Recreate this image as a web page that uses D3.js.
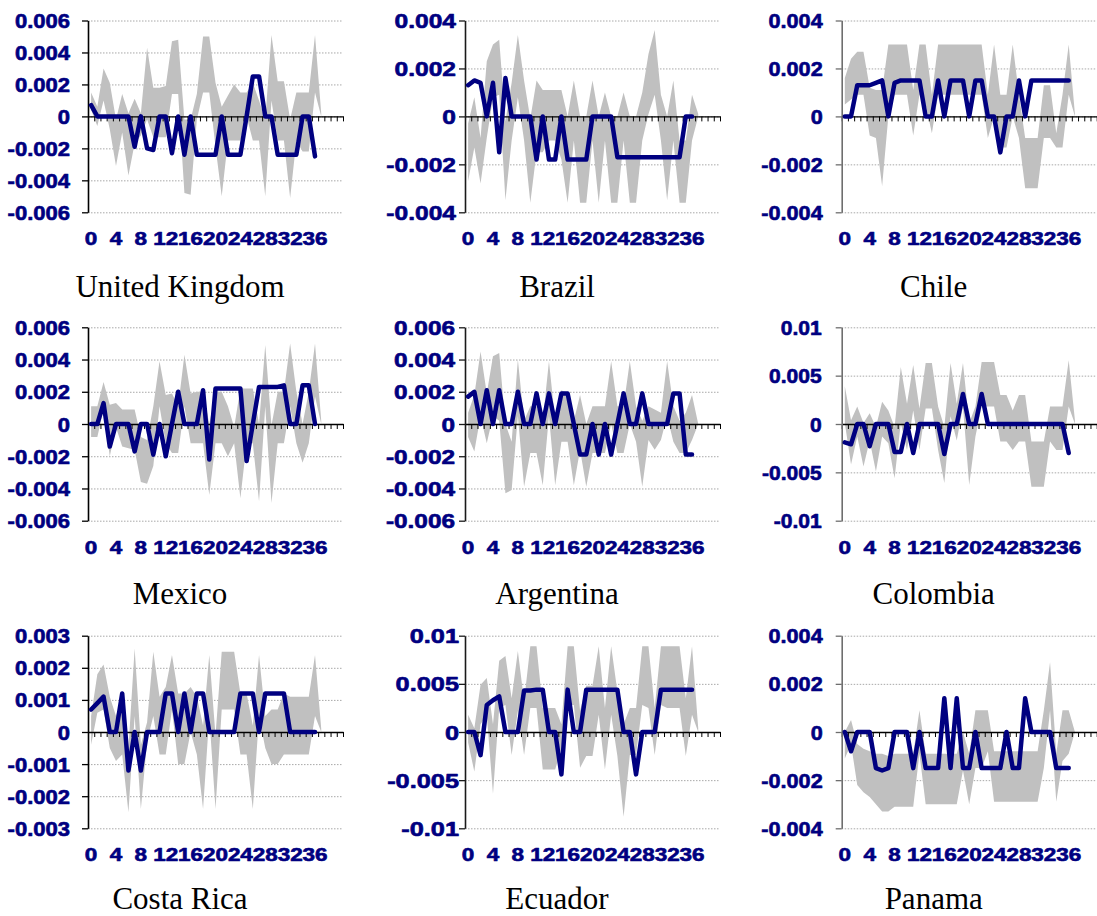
<!DOCTYPE html>
<html>
<head>
<meta charset="utf-8">
<script src="https://cdn.jsdelivr.net/npm/d3@7"></script>
<style>
  body { margin: 0; background: #ffffff; }
  svg { display: block; }
</style>
</head>
<body>
<svg id="chart" width="1097" height="916"></svg>
<script>
// ---- categories (periods) and their printed labels ----
const periods = [0,1,2,3,4,5,6,7,8,9,10,11,12,13,14,15,16,17,18,19,20,21,22,23,24,25,26,27,28,29,30,31,32,33,34,35,36,37,38,39,40];
const periodTicks = [0,4,8,12,16,20,24,28,32,36];

// ---- y tick sets ----
const ticks006 = [-0.006,-0.004,-0.002,0,0.002,0.004,0.006];
const labels006 = ["-0.006","-0.004","-0.002","0","0.002","0.004","0.006"];
const ticks004 = [-0.004,-0.002,0,0.002,0.004];
const labels004 = ["-0.004","-0.002","0","0.002","0.004"];
const ticks003 = [-0.003,-0.002,-0.001,0,0.001,0.002,0.003];
const labels003 = ["-0.003","-0.002","-0.001","0","0.001","0.002","0.003"];
const ticks01 = [-0.01,-0.005,0,0.005,0.01];
const labels01 = ["-0.01","-0.005","0","0.005","0.01"];

// ---- United Kingdom ----
const ukLine = [0.0007,0,0,0,0,0,0,-0.0019,0,-0.002,-0.0021,0,0,-0.0023,0,-0.0024,0,-0.0024,-0.0024,-0.0024,-0.0024,0,-0.0024,-0.0024,-0.0024,0,0.0025,0.0025,0,0,-0.0024,-0.0024,-0.0024,-0.0024,0,0,-0.0025];
const ukUpper = [0.0015,0.0006,0.003,0.0021,-0.0002,0.0014,0.0002,0.0011,0.0002,0.0043,0.0018,0.0018,0.0019,0.0047,0.0048,-0.0002,-0.0002,0.0014,0.005,0.005,0.0021,0.0006,0.0013,0.002,0.0015,0.0015,0.0021,0.001,-0.0002,0.0051,0.0022,0.0022,-0.0002,0.0015,0.0015,0.0015,0.0051,0.0002];
const ukLower = [0.0004,-0.0006,0.001,-0.0008,-0.0031,-0.001,-0.0037,-0.0017,-0.0012,-0.0002,-0.0013,-0.0013,-0.0013,0.0014,0.0014,-0.0048,-0.0049,-0.0002,0.0015,0.0015,-0.0019,-0.005,-0.0015,-0.0015,-0.0015,0,-0.0015,-0.0015,-0.005,0.001,-0.0015,-0.0015,-0.0051,-0.0015,-0.0022,-0.0022,0.0015,0];

// ---- Brazil ----
const brLine = [0.0013,0.0015,0.0014,0,0.0014,-0.0015,0.0016,0,0,0,0,-0.0018,0,-0.0018,-0.0018,0,-0.0018,-0.0018,-0.0018,-0.0018,0,0,0,0,-0.0017,-0.0017,-0.0017,-0.0017,-0.0017,-0.0017,-0.0017,-0.0017,-0.0017,-0.0017,-0.0017,0,0];
const brUpper = [-0.0003,0.0008,-0.0009,0.0023,0.003,0.0032,-0.0002,0.0014,0.0034,0.0015,-0.0001,0.0015,0.0011,0.0011,0.0011,0.0011,0,0.0015,0,0,0.0015,0,0.001,0,0,0.001,0,0,0.001,0.0026,0.0036,0.0009,0,0.0015,-0.001,-0.001,0.0009,0.0001];
const brLower = [-0.0027,-0.0013,-0.0028,-0.0009,0.0008,0.0009,-0.0035,-0.001,0.0008,-0.001,-0.0036,-0.0015,-0.0015,-0.001,-0.001,-0.0018,-0.0036,-0.001,-0.0036,-0.0036,-0.001,-0.0036,-0.001,-0.0036,-0.0036,-0.001,-0.0036,-0.0036,-0.001,0.0001,0.0009,-0.001,-0.0035,-0.001,-0.0036,-0.0036,-0.001,0];

// ---- Chile ----
const clLine = [0,0,0.0013,0.0013,0.0013,0.0014,0.0015,0,0.0014,0.0015,0.0015,0.0015,0.0015,0,0,0.0015,0,0.0015,0.0015,0.0015,0,0.0015,0.0015,0,0,-0.0015,0,0,0.0015,0,0.0015,0.0015,0.0015,0.0015,0.0015,0.0015,0.0015];
const clUpper = [0.0016,0.0024,0.0027,0.0027,0.0012,0.0011,0.0011,0.003,0.003,0.003,0.003,0.0011,0.003,0.003,0.0009,0.003,0.003,0.003,0.003,0.003,0.003,0.003,0.003,0.0009,0.003,0.0009,0.0009,0.003,0.0009,-0.0009,-0.0009,-0.0009,0.0013,0.0013,-0.0007,0.0009,0.003,0.0001];
const clLower = [0.0005,0.0007,0.0009,0.0009,-0.0008,-0.0009,-0.0029,0,0.0009,0.0009,0.0009,-0.0008,0.0009,0.0005,-0.0007,0.0009,0.0009,0.0009,0.0009,0.0009,0.0009,0.0009,0.0009,-0.0009,0,-0.0013,-0.0013,0,-0.0009,-0.003,-0.003,-0.003,-0.0009,-0.0009,-0.0013,-0.0013,0.0009,0];

// ---- Mexico ----
const mxLine = [0,0,0.0013,-0.0014,0,0,0,-0.0017,0,0,-0.0019,0,-0.002,0,0.002,0,0,0,0.0021,-0.0022,0.0022,0.0022,0.0022,0.0022,0.0022,-0.0023,0,0.0023,0.0023,0.0023,0.0023,0.0024,0,0,0.0024,0.0024,0];
const mxUpper = [0.0011,0.0011,0.0026,0.0012,0.0013,0.0009,0.0009,0.0009,-0.0008,-0.001,0.0011,0.0039,0.0018,0.0019,0.0011,0.0043,0.0019,0.002,0.002,0,0.002,0.002,0.0011,-0.0002,0.0022,0.0022,0.0022,0,0.0049,-0.0001,0.002,0.002,0.005,0.002,0,0.002,0.005,0.0002];
const mxLower = [-0.0008,-0.0008,0.0009,-0.002,-0.0002,-0.0014,-0.0015,-0.0016,-0.0036,-0.0037,-0.0026,0.0011,-0.0012,-0.0018,-0.0018,0.0011,-0.0012,-0.0012,-0.0012,-0.0044,-0.0012,-0.0012,-0.002,-0.0012,-0.0046,-0.0012,-0.0012,-0.0048,0.0011,-0.0049,-0.0012,-0.0012,0.0011,-0.0012,-0.0024,-0.0012,0.0017,0];

// ---- Argentina ----
const arLine = [0.0017,0.002,0,0.0021,0,0.0021,0,0,0.002,0,0,0.0019,0,0.0019,0,0.0019,0.0019,0,-0.0019,-0.0019,0,-0.0019,0,-0.0019,0,0.0019,0,0,0.0019,0,0,0,0,0.0019,0.0019,-0.0019,-0.0019];
const arUpper = [0.0007,0.0018,0.0045,0.0019,0.0042,0.0044,0,-0.0011,0.004,0.0002,0.0011,0.0011,0.0002,0.0039,0.0002,0.0021,0.0019,0.0002,0.0018,0,0.0011,0.0011,0.0011,0.0039,0.0011,0.0011,0.0039,0.0011,0.0002,0.0011,0.0009,0.0007,0.0039,0.0011,0.0002,0.0007,0.0018,0];
const arLower = [-0.0008,-0.0017,0.0005,-0.0012,0.0005,0.0002,-0.0043,-0.0041,0.0005,-0.0039,-0.0018,-0.0018,-0.0038,0.0005,-0.0038,-0.0011,-0.0011,-0.0038,-0.0016,-0.0039,-0.0018,-0.0018,-0.0018,0,-0.0018,-0.0018,0,-0.0011,-0.0039,-0.001,-0.0016,-0.001,0.0005,-0.0011,-0.0018,-0.0018,-0.001,0];

// ---- Colombia ----
const coLine = [-0.0019,-0.0021,0,0,-0.0023,0,0,0,-0.0029,-0.0029,0,-0.003,0,0,0,0,-0.0031,0,0,0.0031,0,0,0.0031,0,0,0,0,0,0,0,0,0,0,0,0,0,-0.003];
const coUpper = [0.0039,0.0004,0.0018,0.0001,0.0011,-0.0003,0.0023,0.0014,-0.0003,0.0059,0.0021,0.0061,0.0016,0.0063,0.0063,0.0018,-0.0003,0.0063,0.0021,0.0063,0.0001,0.0018,0.0064,0.0064,0.0064,0.003,0.003,0.0014,0.003,0.003,-0.0018,-0.0018,-0.0018,0.0018,0.0018,0.0018,0.0066,0.0004];
const coLower = [0.0001,-0.0042,-0.0013,-0.0044,-0.0017,-0.0049,-0.0013,-0.002,-0.0056,0.0001,-0.0027,0.0014,-0.0027,0.0016,0.0016,-0.0027,-0.0061,0.0008,-0.0017,0.0018,-0.0063,-0.0013,0.0018,0.0018,0.0018,-0.0018,-0.0018,-0.0027,-0.0018,-0.0018,-0.0065,-0.0065,-0.0065,-0.0018,-0.0027,-0.0027,0.0018,0];

// ---- Costa Rica ----
const crLine = [0.0007,0.0009,0.0011,0,0,0.0012,-0.0012,0,-0.0012,0,0,0,0.0012,0.0012,0,0.0012,0,0.0012,0.0012,0,0,0,0,0,0.0012,0.0012,0.0012,0,0.0012,0.0012,0.0012,0.0012,0,0,0,0,0];
const crUpper = [0.0005,0.0018,0.0021,0.0011,0.0005,0.0011,-0.0005,0.0026,-0.0004,0.0003,0.0025,0.0011,0.0014,0.0024,0.0012,0.0012,0.0014,0.0011,0.0002,0.0024,-0.0001,0.0025,0.0025,0.0025,0.0012,0.0012,0.0002,0.0024,0.0005,0.0007,0.0007,0.0012,0.0011,0.0011,0.0011,0.0011,0.0024,0.0001];
const crLower = [-0.0004,0.0006,0.0007,-0.0005,-0.0009,-0.0007,-0.0025,0.0005,-0.0024,-0.0003,0.0005,-0.0007,-0.0007,0.0007,-0.001,-0.001,0,-0.0007,-0.0024,0.0005,-0.0024,0.0007,0.0007,0.0007,-0.0007,-0.0007,-0.0024,0.0005,-0.0005,-0.001,-0.001,-0.0007,-0.0007,-0.0007,-0.0007,-0.0007,0.0005,0];

// ---- Ecuador ----
const ecLine = [0,0,-0.0024,0.0028,0.0033,0.0037,0,0,0,0.0043,0.0043,0.0044,0.0044,0,0,-0.0044,0.0044,0,0,0.0044,0.0044,0.0044,0.0044,0.0044,0.0044,0,0,-0.0044,0,0,0,0.0044,0.0044,0.0044,0.0044,0.0044,0.0044];
const ecUpper = [0.0018,0.0004,0.0049,0.0056,0.0008,0.0074,0.0079,0.0035,0.0084,0.0032,0.0089,0.0089,0.0025,0.0025,0.0025,0.0008,0.0089,0.0089,0.0022,0.0048,0.0048,0.0089,0.0025,0.0089,0.0042,0.0008,0.0025,0.0025,0.0089,0.0089,0.0025,0.0089,0.0089,0.0089,0.0089,0.0035,0.0089,0.0004];
const ecLower = [-0.0011,-0.0041,0.0008,0.0018,-0.0064,0.0025,0.0028,-0.0024,0.0022,-0.0024,0.0025,0.0025,-0.0039,-0.0039,-0.0039,-0.0017,0.0028,0.0028,-0.0037,-0.0025,-0.0025,0.0018,-0.0039,0.0018,-0.0025,-0.0088,-0.0024,-0.0024,0.0028,0.0025,-0.0024,0.0028,0.0025,0.0025,0.0025,-0.0025,0.0018,0];

// ---- Panama ----
const paLine = [0,-0.0008,0,0,0,-0.0015,-0.0016,-0.0015,0,0,0,-0.0015,0,-0.0015,-0.0015,-0.0015,0.0014,-0.0015,0.0014,-0.0015,-0.0015,0,-0.0015,-0.0015,-0.0015,-0.0015,0,-0.0015,-0.0015,0.0014,0,0,0,0,-0.0015,-0.0015,-0.0015];
const paUpper = [0,0.0005,-0.0005,-0.0007,-0.0008,-0.0009,-0.0009,-0.001,-0.0009,-0.0009,-0.0009,-0.0009,0.0009,-0.0009,-0.0009,-0.0009,-0.0009,-0.0009,-0.0009,0,-0.0009,0.0009,0.0009,0.0009,-0.0008,-0.0008,-0.0008,-0.0008,-0.0008,-0.0008,-0.0008,-0.0008,0.0009,0.0029,-0.0009,0.0009,0.0009,0];
const paLower = [-0.0011,-0.0005,-0.0022,-0.0025,-0.0027,-0.003,-0.0033,-0.0033,-0.0031,-0.0031,-0.0031,-0.0031,-0.0009,-0.003,-0.003,-0.003,-0.003,-0.003,-0.003,-0.0016,-0.003,-0.0015,-0.0015,-0.0008,-0.0029,-0.0029,-0.0029,-0.0029,-0.0029,-0.0029,-0.0029,-0.0029,-0.0015,0.0009,-0.0029,-0.0012,-0.0009,0];

// ---- panel table (row-major, 3 x 3) ----
const panels = [
  { name: "United Kingdom", line: ukLine, upper: ukUpper, lower: ukLower, ticks: ticks006, labels: labels006 },
  { name: "Brazil",         line: brLine, upper: brUpper, lower: brLower, ticks: ticks004, labels: labels004 },
  { name: "Chile",          line: clLine, upper: clUpper, lower: clLower, ticks: ticks004, labels: labels004 },
  { name: "Mexico",         line: mxLine, upper: mxUpper, lower: mxLower, ticks: ticks006, labels: labels006 },
  { name: "Argentina",      line: arLine, upper: arUpper, lower: arLower, ticks: ticks006, labels: labels006 },
  { name: "Colombia",       line: coLine, upper: coUpper, lower: coLower, ticks: ticks01,  labels: labels01 },
  { name: "Costa Rica",     line: crLine, upper: crUpper, lower: crLower, ticks: ticks003, labels: labels003 },
  { name: "Ecuador",        line: ecLine, upper: ecUpper, lower: ecLower, ticks: ticks01,  labels: labels01 },
  { name: "Panama",         line: paLine, upper: paUpper, lower: paLower, ticks: ticks004, labels: labels004 }
];

// ---- layout ----
const colX = [88, 465, 841.7];
const rowTop = [20.5, 327.3, 635.7];
const rowBottom = [212.3, 520.7, 828.3];
const titleBaseline = [297, 604, 909];
const plotW = 255;
const yLabelStretch = [1.13, 1.26, 1.11, 1.13, 1.25, 1.08, 1.13, 1.30, 1.11];
const yLabelGap = [18, 9, 19, 18, 10, 20, 18, 6, 19];
const axisColor = ["#000000", "#1a1a1a", "#6e6e6e"];

const NAVY = "#000080";
const BAND = "#c0c0c0";
const TICK_FONT = "Arial, 'Liberation Sans', sans-serif";

const svg = d3.select("#chart");

// heavy navy tick lettering
function styleTickText(sel, size) {
  sel.attr("fill", NAVY)
    .attr("stroke", NAVY)
    .attr("stroke-width", 0.6)
    .attr("stroke-linejoin", "round")
    .style("font-family", TICK_FONT)
    .style("font-weight", "bold")
    .style("font-size", size);
}

panels.forEach((p, k) => {
  const col = k % 3, row = Math.floor(k / 3);
  const ax = colX[col], top = rowTop[row], bottom = rowBottom[row];
  const g = svg.append("g");

  const xBand = d3.scaleBand().domain(periods).range([ax, ax + plotW]);
  const cx = i => xBand(periods[i]) + xBand.bandwidth() / 2;
  const xEdge = d3.scaleLinear().domain([0, periods.length]).range([ax, ax + plotW]);
  const y = d3.scaleLinear().domain([p.ticks[0], p.ticks[p.ticks.length - 1]]).range([bottom, top]);

  // dotted gridlines
  const grid = g.append("g").attr("transform", `translate(${ax},0)`)
    .call(d3.axisLeft(y).tickValues(p.ticks).tickSize(-plotW).tickFormat(""));
  grid.select(".domain").remove();
  grid.selectAll(".tick line")
    .attr("stroke", "#a8a8a8").attr("stroke-width", 1).attr("stroke-dasharray", "1.5,1.5");

  // shaded band between lower and upper
  const band = d3.area()
    .x((d, i) => cx(i))
    .y0((d, i) => y(p.lower[i]))
    .y1((d, i) => y(p.upper[i]));
  g.append("path").datum(p.upper).attr("d", band).attr("fill", BAND);

  // zero line with category tick marks
  const xAxis = g.append("g").attr("transform", `translate(0,${y(0)})`)
    .call(d3.axisBottom(xEdge).tickValues(d3.range(0, periods.length + 1)).tickSize(5).tickSizeOuter(0).tickFormat(""));
  xAxis.select(".domain").attr("stroke", "#000").attr("stroke-width", 1.3);
  xAxis.selectAll(".tick line").attr("stroke", "#000").attr("stroke-width", 1);

  // value axis
  const yAxis = g.append("g").attr("transform", `translate(${ax},0)`)
    .call(d3.axisLeft(y).tickValues(p.ticks).tickSize(6).tickSizeOuter(0)
      .tickFormat((d, i) => p.labels[i]));
  yAxis.select(".domain").attr("stroke", axisColor[col]).attr("stroke-width", 1.6);
  yAxis.selectAll(".tick line").attr("stroke", axisColor[col]).attr("stroke-width", 1.3);
  yAxis.selectAll(".tick text")
    .attr("x", 0).attr("dy", "0.36em")
    .attr("text-anchor", "end")
    .attr("transform", `translate(${-yLabelGap[k]},0) scale(${yLabelStretch[k]},1)`)
    .call(styleTickText, "19.5px");

  // period labels below the plot
  const xLab = g.append("g").attr("transform", `translate(0,${bottom})`)
    .call(d3.axisBottom(xBand).tickValues(periodTicks).tickSize(0));
  xLab.select(".domain").remove();
  xLab.selectAll(".tick text")
    .attr("y", 33).attr("dy", 0)
    .attr("transform", "scale(1.27,1)")
    .call(styleTickText, "17.7px");

  // estimate line
  const line = d3.line().x((d, i) => cx(i)).y(d => y(d));
  g.append("path").datum(p.line).attr("d", line)
    .attr("fill", "none").attr("stroke", NAVY).attr("stroke-width", 4.5)
    .attr("stroke-linejoin", "round").attr("stroke-linecap", "round");

  // country name
  g.append("text")
    .attr("x", ax + 92).attr("y", titleBaseline[row])
    .attr("text-anchor", "middle")
    .style("font-family", "'Liberation Serif', 'Times New Roman', serif")
    .style("font-size", "31px")
    .attr("fill", "#000")
    .text(p.name);
});
</script>
</body>
</html>
